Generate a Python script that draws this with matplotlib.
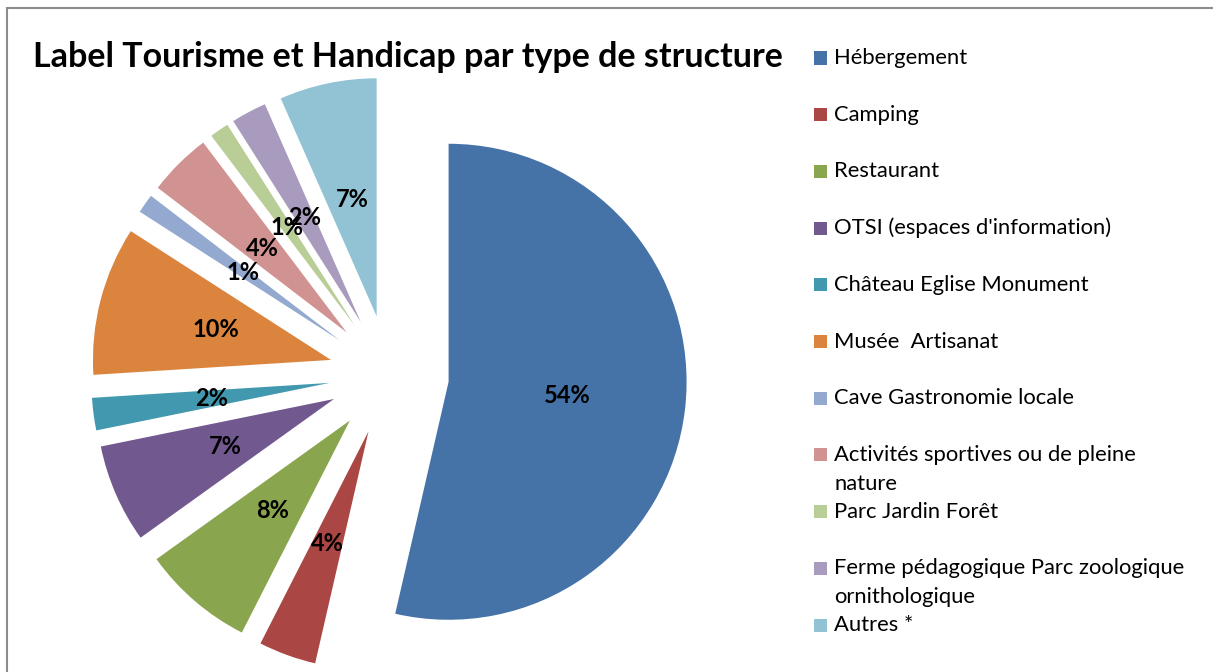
import matplotlib.pyplot as plt
from matplotlib.patches import Rectangle

categories = ["Hébergement", "Camping", "Restaurant", "OTSI (espaces d'information)",
              "Château Eglise Monument", "Musée  Artisanat", "Cave Gastronomie locale",
              "Activités sportives ou de pleine\nnature", "Parc Jardin Forêt",
              "Ferme pédagogique Parc zoologique\nornithologique", "Autres *"]
# parts estimées d'après les angles (étiquettes arrondies à l'unité)
values = [53.6, 3.9, 7.6, 6.7, 2.2, 10.1, 1.3, 4.3, 1.3, 2.4, 6.6]
colors = ["#4572A7", "#AA4643", "#89A54E", "#71588F", "#4198AF", "#DB843D",
          "#93A9CF", "#D19392", "#B9CD96", "#A99BBD", "#92C3D5"]

W, H = 1213, 672
fig = plt.figure(figsize=(W / 100, H / 100), dpi=100)
font = "Lato"

# cadre gris du graphique
fig.patches.append(Rectangle((7 / W, -0.05), 1.05, 1 - 8 / H + 0.05, transform=fig.transFigure,
                             fill=False, edgecolor="#8c8c8c", linewidth=1.5))

# camembert : rayon 1 = 238 px
R = 238
L = 1.4
side = 2 * L * R
cx, cy = 389, H - 375
ax = fig.add_axes([(cx - side / 2) / W, (cy - side / 2) / H, side / W, side / H])
wedges, texts, autotexts = ax.pie(values, colors=colors, startangle=90, counterclock=False,
                                  explode=[0.252] * len(values), autopct="%.0f%%",
                                  pctdistance=0.5, wedgeprops=dict(linewidth=0))
for t in autotexts:
    t.set_fontfamily(font)
    t.set_fontweight("bold")
    t.set_fontsize(17)
    t.set_color("black")
ax.set_xlim(-L, L)
ax.set_ylim(-L, L)
ax.set_aspect("equal")
ax.axis("off")

fig.text(33 / W, 1 - 57 / H, "Label Tourisme et Handicap par type de structure",
         fontsize=24.5, fontweight="bold", fontfamily=font, va="center", ha="left")

# légende
for i, (lab, col) in enumerate(zip(categories, colors)):
    y = 58 + i * 56.7
    fig.patches.append(Rectangle((814 / W, 1 - (y + 6.5) / H), 13 / W, 13 / H,
                                 transform=fig.transFigure, facecolor=col, edgecolor="none"))
    for k, line in enumerate(lab.split("\n")):
        fig.text(834 / W, 1 - (y + k * 29) / H, line, fontsize=15.8, fontfamily=font,
                 va="center", ha="left", color="black")

fig.savefig("out.png", dpi=100)
